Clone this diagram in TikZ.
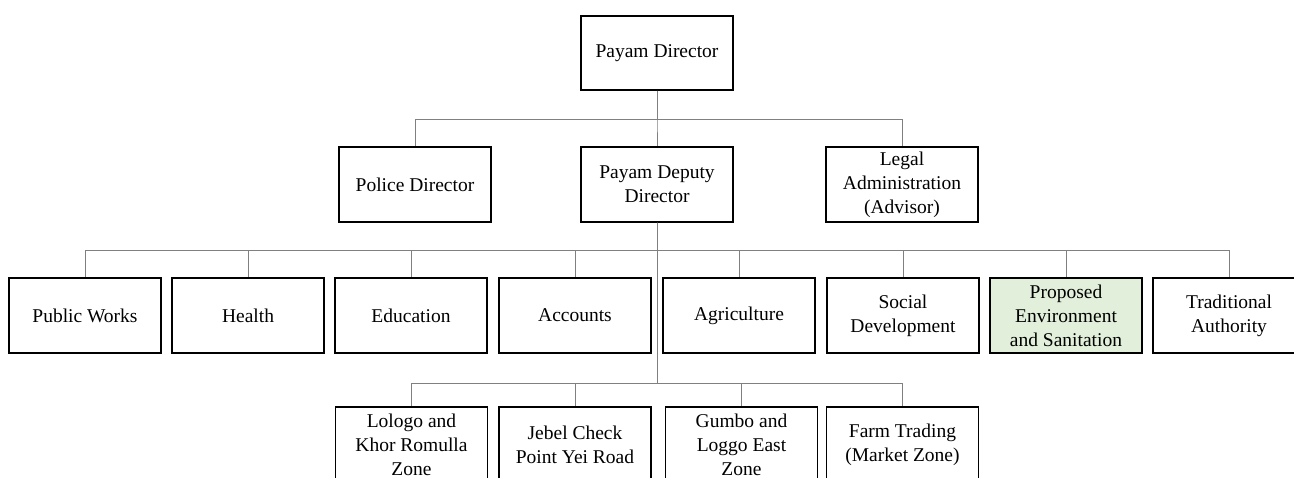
\documentclass[tikz,border=0pt]{standalone}
\usepackage{fontspec}
\setmainfont{Liberation Serif}
\usepackage{xcolor}
\usepackage{tikz}
\usetikzlibrary{positioning,calc}
\definecolor{sanitgreen}{RGB}{226,239,218}
\definecolor{linkgray}{RGB}{128,128,128}

\begin{document}
\begin{tikzpicture}[x=1pt, y=-1pt,
    unit/.style={draw, line width=1.4pt, minimum width=152pt, minimum height=75pt,
      inner sep=0pt, align=center, font=\fontsize{19.5}{24}\selectfont},
    link/.style={draw=linkgray, line width=0.9pt}]
  \useasboundingbox (0,0) rectangle (1294,477);
  \clip (0,0) rectangle (1294,477);
  % top
  \node[unit, minimum height=74pt] (dir) at (657,53) {Payam Director};
  % second row
  \node[unit] (police) at (415,184.5) {Police Director};
  \node[unit] (deputy) at (657,184.5) {Payam Deputy\\Director};
  \node[unit] (legal) at (902,184.5) {Legal\\Administration\\(Advisor)};
  % departments
  \node[unit] (works) at (85,315.5) {Public Works};
  \node[unit] (health) at (248,315.5) {Health};
  \node[unit] (educ) at (411,315.5) {Education};
  \node[unit] (accounts) at (575,315.5) {Accounts};
  \node[unit] (agri) at (739,315.5) {Agriculture};
  \node[unit] (social) at (903,315.5) {Social\\Development};
  \node[unit, fill=sanitgreen] (sanit) at (1066,315.5) {Proposed\\Environment\\and Sanitation};
  \node[unit] (trad) at (1229,315.5) {Traditional\\Authority};
  % zones
  \node[unit] (lologo) at (411.5,444.5) {Lologo and\\Khor Romulla\\Zone};
  \node[unit] (jebel) at (575,444.5) {Jebel Check\\Point Yei Road};
  \node[unit] (gumbo) at (741.5,444.5) {Gumbo and\\Loggo East\\Zone};
  \node[unit] (farm) at (902.5,444.5) {Farm Trading\\(Market Zone)};
  % bars
  \coordinate (barA) at (0,119);
  \coordinate (barB) at (0,250);
  \coordinate (barC) at (0,383);
  \foreach \c in {police,deputy,legal}
    \draw[link] (dir.south) -- (dir.south |- barA) -| (\c.north);
  \foreach \c in {works,health,educ,accounts,agri,social,sanit,trad}
    \draw[link] (deputy.south) -- (deputy.south |- barB) -| (\c.north);
  \foreach \c in {lologo,jebel,gumbo,farm}
    \draw[link] (deputy.south) -- (deputy.south |- barC) -| (\c.north);
\end{tikzpicture}
\end{document}
